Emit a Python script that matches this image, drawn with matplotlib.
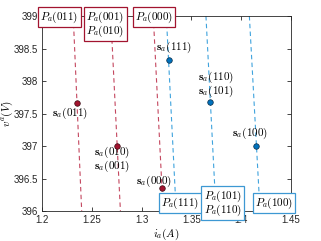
import numpy as np
import matplotlib
matplotlib.use("Agg")
import matplotlib.pyplot as plt

plt.rcParams["font.family"] = ["Liberation Sans", "DejaVu Sans"]
plt.rcParams["mathtext.fontset"] = "cm"

# operating points
red_states = [r"$\mathbf{s}_a(011)$", "$\\mathbf{s}_a(010)$\n$\\mathbf{s}_a(001)$", r"$\mathbf{s}_a(000)$"]
red_i = [1.2353, 1.2753, 1.3203]
red_v = [397.66, 397.00, 396.35]

blue_states = [r"$\mathbf{s}_a(111)$", "$\\mathbf{s}_a(110)$\n$\\mathbf{s}_a(101)$", r"$\mathbf{s}_a(100)$"]
blue_i = [1.3270, 1.3690, 1.4153]
blue_v = [398.32, 397.67, 397.00]

# dashed power lines: current at v=399 and at v=396
line_v = [399.0, 396.0]
red_line_i = [[1.2313, 1.2398], [1.2690, 1.2787], [1.3117, 1.3216]]
blue_line_i = [[1.3248, 1.3347], [1.3646, 1.3747], [1.4082, 1.4189]]

red_boxes = [r"$P_a(011)$", "$P_a(001)$\n$P_a(010)$", r"$P_a(000)$"]
red_box_i = [1.2176, 1.2638, 1.3124]
blue_boxes = [r"$P_a(111)$", "$P_a(101)$\n$P_a(110)$", r"$P_a(100)$"]
blue_box_i = [1.3390, 1.3815, 1.4330]

red = "#A2142F"
red_dash = "#c4475f"
blue = "#0072BD"
blue_dash = "#3fa3dd"
blue_edge = "#3d98d3"

fig = plt.figure(figsize=(3.21, 2.41), dpi=100)
ax = fig.add_axes([0.131, 0.1245, 0.7755, 0.809])

for li in red_line_i:
    ax.plot(li, line_v, "--", color=red_dash, lw=0.8, dashes=(4, 3))
for li in blue_line_i:
    ax.plot(li, line_v, "--", color=blue_dash, lw=0.8, dashes=(4, 3))

ax.plot(red_i, red_v, "o", ms=4, mfc=red, mec="#3a0a12", mew=0.5, zorder=4)
ax.plot(blue_i, blue_v, "o", ms=4, mfc=blue, mec="#0a2a45", mew=0.5, zorder=4)

# point labels (offsets in points, text centred)
red_off = [(-5, -7.2), (-4, -9.7), (-5.8, 5.3)]
for s, x, y, o in zip(red_states, red_i, red_v, red_off):
    ax.annotate(s, (x, y), xytext=o, textcoords="offset points", ha="center",
                va="center", fontsize=8, linespacing=0.85)
blue_off = [(3.6, 9.4), (4.3, 13), (-4.7, 9.4)]
for s, x, y, o in zip(blue_states, blue_i, blue_v, blue_off):
    ax.annotate(s, (x, y), xytext=o, textcoords="offset points", ha="center",
                va="center", fontsize=8, linespacing=0.85)

for s, x in zip(red_boxes, red_box_i):
    ax.text(x, 399.1, s, ha="center", va="top", fontsize=8, zorder=6, clip_on=False,
            linespacing=0.9,
            bbox=dict(boxstyle="square,pad=0.2", fc="white", ec=red, lw=0.9))
for s, x in zip(blue_boxes, blue_box_i):
    ax.text(x, 396.12, s, ha="center", va="center", fontsize=8, zorder=6, clip_on=False,
            linespacing=0.9,
            bbox=dict(boxstyle="square,pad=0.2", fc="white", ec=blue_edge, lw=0.9))

ax.set_xlim(1.2, 1.45)
ax.set_ylim(396, 399)
ax.set_xticks(np.arange(1.2, 1.451, 0.05))
ax.set_xticklabels(["1.2", "1.25", "1.3", "1.35", "1.4", "1.45"])
ax.set_yticks(np.arange(396, 399.01, 0.5))
ax.set_yticklabels(["396", "396.5", "397", "397.5", "398", "398.5", "399"])
ax.tick_params(direction="in", top=True, right=True, labelsize=7, length=3,
               width=0.6, colors="#262626", pad=3)
for sp in ax.spines.values():
    sp.set_color("#262626")
    sp.set_linewidth(0.6)

ax.set_xlabel(r"$i_a(A)$", fontsize=8, labelpad=1)
ax.set_ylabel(r"$v^a(V)$", fontsize=8)
ax.yaxis.set_label_coords(-0.11, 0.5)

fig.savefig("out.png", dpi=100)
